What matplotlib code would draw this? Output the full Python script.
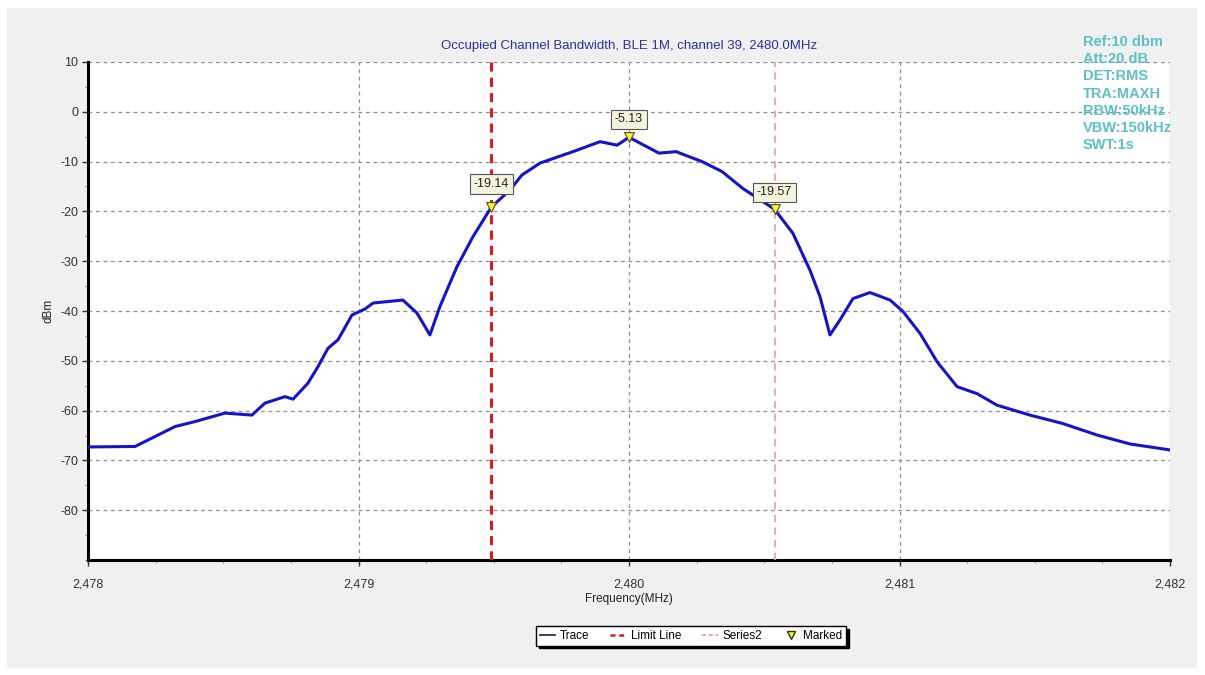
import matplotlib
matplotlib.use("Agg")
import matplotlib.pyplot as plt
from matplotlib.ticker import MultipleLocator, FixedLocator, FixedFormatter
from matplotlib.patches import Rectangle
from matplotlib.lines import Line2D

plt.rcParams['font.family'] = ['Liberation Sans', 'DejaVu Sans']
plt.rcParams['axes.unicode_minus'] = False

# ---- data ----
trace_freq = [2478.000, 2478.174, 2478.237, 2478.322, 2478.396, 2478.506, 2478.555,
              2478.606, 2478.654, 2478.728, 2478.758, 2478.813, 2478.850, 2478.887,
              2478.924, 2478.976, 2479.024, 2479.054, 2479.164, 2479.216, 2479.264,
              2479.301, 2479.364, 2479.423, 2479.491, 2479.560, 2479.604, 2479.671,
              2479.793, 2479.893, 2479.956, 2480.000, 2480.111, 2480.174, 2480.270,
              2480.344, 2480.421, 2480.538, 2480.606, 2480.669, 2480.706, 2480.743,
              2480.780, 2480.828, 2480.891, 2480.965, 2481.013, 2481.076, 2481.139,
              2481.213, 2481.287, 2481.360, 2481.482, 2481.604, 2481.730, 2481.852,
              2482.000]
trace_dbm = [-67.3, -67.2, -65.5, -63.2, -62.2, -60.5, -60.7,
             -60.9, -58.5, -57.2, -57.7, -54.5, -51.2, -47.5,
             -45.8, -40.8, -39.6, -38.4, -37.8, -40.4, -44.8,
             -39.1, -31.1, -25.1, -19.14, -15.7, -12.7, -10.3,
             -8.0, -6.0, -6.7, -5.13, -8.3, -8.0, -10.0,
             -12.0, -15.4, -19.57, -24.4, -31.8, -37.1, -44.8,
             -41.8, -37.5, -36.3, -37.8, -40.1, -44.5, -50.2,
             -55.2, -56.6, -58.9, -60.9, -62.6, -64.9, -66.7,
             -67.9]

marker_freq = [2479.491, 2480.000, 2480.538]
marker_dbm = [-19.14, -5.13, -19.57]
marker_text = ["-19.14", "-5.13", "-19.57"]

limit_line_freq = 2479.491
series2_freq = 2480.538

x_ticks = [2478, 2479, 2480, 2481, 2482]
x_tick_labels = ["2,478", "2,479", "2,480", "2,481", "2,482"]
y_ticks = [10, 0, -10, -20, -30, -40, -50, -60, -70, -80]

title = "Occupied Channel Bandwidth, BLE 1M, channel 39, 2480.0MHz"
info_lines = ["Ref:10 dbm", "Att:20 dB", "DET:RMS", "TRA:MAXH",
              "RBW:50kHz", "VBW:150kHz", "SWT:1s"]

# ---- figure ----
W, H = 1205, 675
fig = plt.figure(figsize=(W / 100, H / 100), dpi=100, facecolor='white')
fig.patches.append(Rectangle((7 / W, 1 - 668 / H), (1197 - 7) / W, (668 - 8) / H,
                             transform=fig.transFigure, facecolor='#f0f0f0',
                             edgecolor='none', zorder=-10))

ax = fig.add_axes([88 / W, 1 - 560 / H, (1170 - 88) / W, (560 - 62) / H])
ax.set_facecolor('white')
ax.set_xlim(2478, 2482)
ax.set_ylim(-90, 10)

for s in ['top', 'right']:
    ax.spines[s].set_visible(False)
ax.spines['left'].set_linewidth(2.2)
ax.spines['bottom'].set_linewidth(2.2)

ax.xaxis.set_major_locator(FixedLocator(x_ticks))
ax.xaxis.set_major_formatter(FixedFormatter(x_tick_labels))
ax.xaxis.set_minor_locator(MultipleLocator(0.25))
ax.yaxis.set_major_locator(FixedLocator(y_ticks))
ax.yaxis.set_minor_locator(MultipleLocator(5))
ax.tick_params(axis='both', which='major', labelsize=9, length=4, width=1,
               colors='#333333', pad=3)
ax.tick_params(axis='both', which='minor', length=2, width=0.8, color='#888888')
ax.tick_params(axis='x', pad=9)

ax.grid(True, which='major', linestyle=(0, (3, 3)), color='#8c8c8c', linewidth=0.9)
ax.set_axisbelow(True)

ax.set_xlabel("Frequency(MHz)", fontsize=8.5, color='#222222', labelpad=2)
ax.set_ylabel("dBm", fontsize=8.5, color='#222222', labelpad=4)
ax.set_title(title, fontsize=9.5, color='#2e2ea6', pad=9)

# vertical lines
ax.axvline(limit_line_freq, color='#d81c1c', linestyle=(0, (3, 2)), linewidth=2.2, zorder=3)
ax.axvline(series2_freq, color='#f0a0a0', linestyle=(0, (4, 3)), linewidth=1.3, zorder=3)

# trace
ax.plot(trace_freq, trace_dbm, color='#1414c8', linewidth=2.2, zorder=4)

# markers
ax.scatter(marker_freq, marker_dbm, marker='v', s=50, facecolor='#f2f24a',
           edgecolor='#555500', linewidth=0.8, zorder=6)
offsets = [23, 18, 17]
for f, v, t, o in zip(marker_freq, marker_dbm, marker_text, offsets):
    ax.annotate(t, (f, v), xytext=(0, o), textcoords='offset pixels',
                ha='center', va='center', fontsize=9, color='#222222', zorder=7,
                bbox=dict(boxstyle='square,pad=0.3', facecolor='#f4f4dc',
                          edgecolor='#555555', linewidth=0.8))

# info text
for i, line in enumerate(info_lines):
    fig.text(1083 / W, 1 - (42 + i * 17.2) / H, line, fontsize=10.5,
             color='#5cc0c4', ha='left', va='center', fontweight='bold')

# legend
handles = [
    Line2D([], [], color='#1a1a60', linewidth=1.2),
    Line2D([], [], color='#d81c1c', linestyle=(0, (2, 1.5)), linewidth=1.8),
    Line2D([], [], color='#f0a0a0', linestyle=(0, (2, 1.5)), linewidth=1.4),
    Line2D([], [], color='none', marker='v', markersize=6,
           markerfacecolor='#f2f24a', markeredgecolor='#333300'),
]
labels = ["Trace", "Limit Line", "Series2", "Marked"]
leg = fig.legend(handles, labels, loc='center', bbox_to_anchor=(691 / W, 1 - 636 / H),
                 ncol=4, fontsize=8.5, frameon=True, fancybox=False,
                 shadow={'color': 'black', 'alpha': 1.0},
                 handlelength=1.3, handletextpad=0.4, columnspacing=1.8,
                 borderpad=0.3, edgecolor='black')
leg.get_frame().set_linewidth(1.0)

fig.savefig("out.png", dpi=100, facecolor=fig.get_facecolor())
